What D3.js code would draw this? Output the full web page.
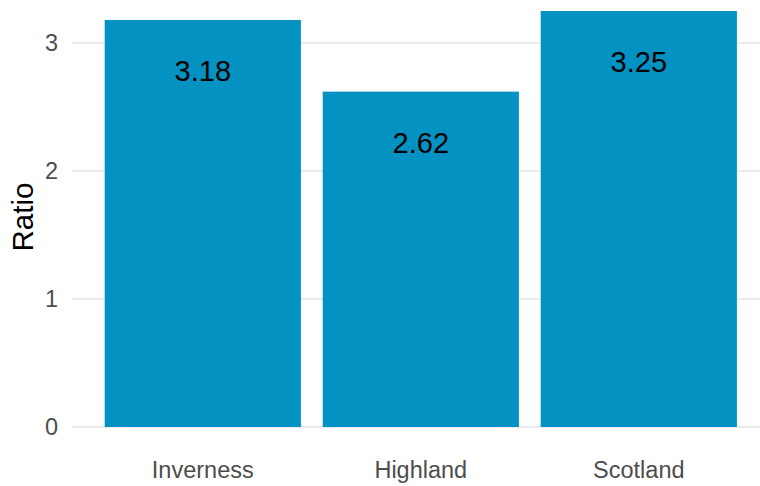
<!DOCTYPE html>
<html>
<head>
<meta charset="utf-8">
<script src="https://cdn.jsdelivr.net/npm/d3@7"></script>
<style>
  body { margin: 0; background: #fff; }
  svg { display: block; font-family: "Liberation Sans", Arial, sans-serif; }
</style>
</head>
<body>
<div id="chart"></div>
<script>
const areas = ["Inverness", "Highland", "Scotland"];
const ratios = [3.18, 2.62, 3.25];
const yTicks = [0, 1, 2, 3];

const width = 760, height = 486;

const svg = d3.select("#chart").append("svg")
  .attr("width", width)
  .attr("height", height);

// x: discrete, ggplot style expansion
const x = d3.scaleBand()
  .domain(areas)
  .range([72, 769.6])
  .paddingInner(0.1)
  .paddingOuter(0.15);

const y = d3.scaleLinear().domain([0, 3]).range([427, 43]);

// gridlines
svg.append("g")
  .selectAll("line")
  .data(yTicks)
  .join("line")
  .attr("x1", 72)
  .attr("x2", width)
  .attr("y1", d => y(d))
  .attr("y2", d => y(d))
  .attr("stroke", "#ebebeb")
  .attr("stroke-width", 2);

// y tick labels
svg.append("g")
  .selectAll("text")
  .data(yTicks)
  .join("text")
  .attr("x", 58)
  .attr("y", d => y(d))
  .attr("dy", "0.36em")
  .attr("text-anchor", "end")
  .attr("font-size", 23.5)
  .attr("fill", "#4d4d4d")
  .text(d => d);

// bars
svg.append("g")
  .selectAll("rect")
  .data(areas)
  .join("rect")
  .attr("x", d => x(d))
  .attr("width", x.bandwidth())
  .attr("y", (d, i) => y(ratios[i]))
  .attr("height", (d, i) => y(0) - y(ratios[i]))
  .attr("fill", "#0392c2");

// value labels inside bars
svg.append("g")
  .selectAll("text")
  .data(areas)
  .join("text")
  .attr("x", d => x(d) + x.bandwidth() / 2)
  .attr("y", (d, i) => y(ratios[i]) + 61)
  .attr("text-anchor", "middle")
  .attr("font-size", 29)
  .attr("fill", "#000")
  .text((d, i) => ratios[i].toFixed(2));

// x tick labels
svg.append("g")
  .selectAll("text")
  .data(areas)
  .join("text")
  .attr("x", d => x(d) + x.bandwidth() / 2)
  .attr("y", 478)
  .attr("text-anchor", "middle")
  .attr("font-size", 23.5)
  .attr("fill", "#4d4d4d")
  .text(d => d);

// y axis title
svg.append("text")
  .attr("transform", "translate(33, 217) rotate(-90)")
  .attr("text-anchor", "middle")
  .attr("font-size", 29.5)
  .attr("fill", "#000")
  .text("Ratio");
</script>
</body>
</html>
